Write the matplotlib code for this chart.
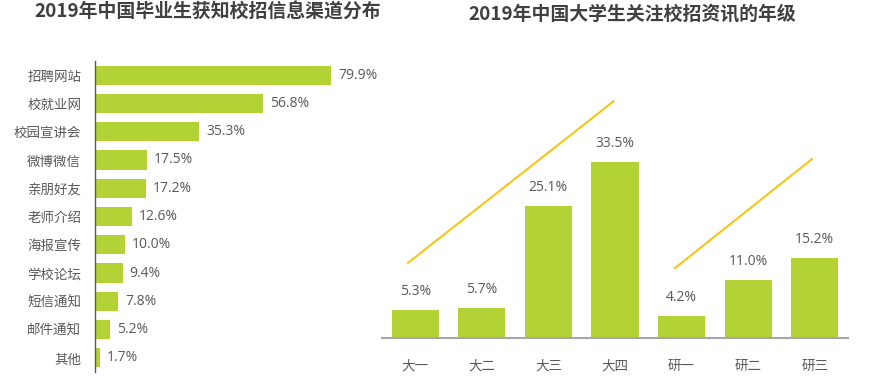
import matplotlib
matplotlib.use("Agg")
import matplotlib.pyplot as plt

plt.rcParams['font.family'] = ['Noto Sans CJK SC', 'DejaVu Sans']
NUMFONT = ['Open Sans', 'Noto Sans CJK SC']

# Left chart data
channels = ["招聘网站", "校就业网", "校园宣讲会", "微博微信", "亲朋好友", "老师介绍",
            "海报宣传", "学校论坛", "短信通知", "邮件通知", "其他"]
channel_vals = [79.9, 56.8, 35.3, 17.5, 17.2, 12.6, 10.0, 9.4, 7.8, 5.2, 1.7]

# Right chart data
grades = ["大一", "大二", "大三", "大四", "研一", "研二", "研三"]
grade_vals = [5.3, 5.7, 25.1, 33.5, 4.2, 11.0, 15.2]

# Decorative trend lines (data coordinates)
trend1_x = [-0.11, 2.98]
trend1_y = [14.3, 45.1]
trend2_x = [3.90, 5.96]
trend2_y = [13.3, 34.1]

GREEN = "#B2D235"
TEXT = "#595959"
TITLE = "#404040"
GOLD = "#F5C518"

W, H = 875, 384
fig = plt.figure(figsize=(W / 100, H / 100), dpi=100)

# ---- Left panel ----
ax1 = fig.add_axes([95 / W, 1 - 372 / H, 300 / W, 311 / H])
ypos = list(range(len(channels)))
ax1.barh(ypos, channel_vals, height=0.68, color=GREEN)
ax1.set_ylim(len(channels) - 0.5, -0.5)
ax1.set_xlim(0, 300 / 2.955)
ax1.set_yticks(ypos)
ax1.set_yticklabels(channels, fontsize=9.7, color=TEXT)
ax1.tick_params(axis='y', length=0, pad=10)
ax1.set_xticks([])
for s in ["top", "right", "bottom"]:
    ax1.spines[s].set_visible(False)
ax1.spines["left"].set_color("#595959")
ax1.spines["left"].set_linewidth(1.0)
for y, v in zip(ypos, channel_vals):
    ax1.annotate(f"{v:.1f}%", (v, y), xytext=(5, 0), textcoords="offset points",
                 va="center", ha="left", fontsize=10, color=TEXT, family=NUMFONT)
fig.text(208 / W, 1 - 12 / H, "2019年中国毕业生获知校招信息渠道分布", ha="center", va="center",
         fontsize=13.6, fontweight="bold", color=TITLE)

# ---- Right panel ----
ax2 = fig.add_axes([382 / W, 1 - 338 / H, 466 / W, 248 / H])
xpos = list(range(len(grades)))
ax2.bar(xpos, grade_vals, width=0.71, color=GREEN)
ax2.set_xlim(-0.5, len(grades) - 0.5)
ax2.set_ylim(0, 248 / 5.25)
ax2.set_xticks(xpos)
ax2.set_xticklabels(grades, fontsize=9.7, color=TEXT)
ax2.tick_params(axis='x', length=0, pad=15)
ax2.set_yticks([])
for s in ["top", "right", "left"]:
    ax2.spines[s].set_visible(False)
ax2.spines["bottom"].set_color("#A6A6A6")
ax2.spines["bottom"].set_linewidth(1.5)
for x, v in zip(xpos, grade_vals):
    ax2.annotate(f"{v:.1f}%", (x, v), xytext=(0, 8), textcoords="offset points",
                 va="bottom", ha="center", fontsize=10, color=TEXT, family=NUMFONT)
ax2.plot(trend1_x, trend1_y, color=GOLD, lw=1.5, clip_on=False)
ax2.plot(trend2_x, trend2_y, color=GOLD, lw=1.5, clip_on=False)
fig.text(632 / W, 1 - 14 / H, "2019年中国大学生关注校招资讯的年级", ha="center", va="center",
         fontsize=13.6, fontweight="bold", color=TITLE)

fig.savefig("out.png", dpi=100)
